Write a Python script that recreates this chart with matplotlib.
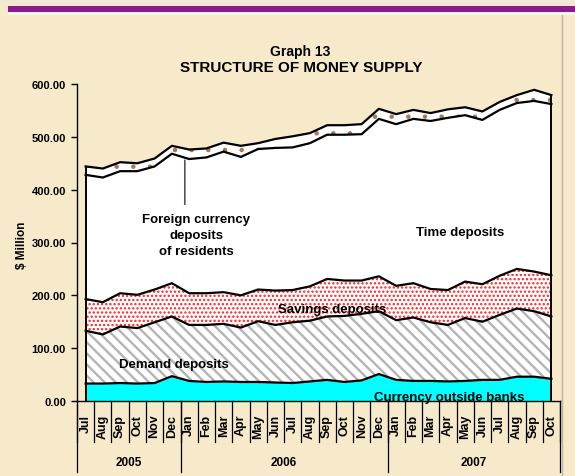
"""
Graph 13 - Structure of money supply (stacked area, Jul 2005 - Oct 2007).
"""

import numpy as np
import matplotlib.pyplot as plt
from matplotlib.patches import Rectangle
from matplotlib.lines import Line2D

# Datos ($ Million)
months = ["Jul", "Aug", "Sep", "Oct", "Nov", "Dec",
          "Jan", "Feb", "Mar", "Apr", "May", "Jun",
          "Jul", "Aug", "Sep", "Oct", "Nov", "Dec",
          "Jan", "Feb", "Mar", "Apr", "May", "Jun",
          "Jul", "Aug", "Sep", "Oct"]
years = ["2005", "2006", "2007"]
year_counts = [6, 12, 10]

currency = [33, 33, 34, 33, 34, 47, 38, 36, 37, 36, 36, 35, 34, 37,
            40, 36, 39, 51, 40, 38, 38, 37, 38, 40, 40, 46, 46, 42]
demand = [100, 93, 107, 105, 115, 113, 106, 108, 109, 103, 115, 109, 115, 115,
          120, 125, 126, 119, 113, 120, 111, 107, 119, 110, 123, 129, 124, 118]
savings = [60, 61, 63, 63, 62, 63, 60, 60, 60, 61, 60, 65, 61, 65,
           71, 67, 63, 66, 65, 65, 63, 66, 69, 71, 74, 75, 75, 78]
time_dep = [235, 236, 231, 234, 233, 245, 254, 257, 266, 262, 266, 270, 270, 271,
            273, 276, 277, 298, 306, 311, 318, 326, 315, 311, 314, 314, 323, 324]
foreign = [16, 17, 17, 15, 15, 15, 18, 17, 17, 21, 11, 17, 21, 19,
           18, 18, 19, 19, 19, 17, 15, 16, 15, 16, 15, 15, 21, 17]

BG = "#F6EACB"

plt.rcParams.update({
    "font.family": "Liberation Sans",
    "font.weight": "bold",
})

fig = plt.figure(figsize=(5.75, 4.77), dpi=100, facecolor=BG)

# ── Marco de la página ──
fig.add_artist(Rectangle((0, 1 - 6 / 477), 1, 6 / 477, transform=fig.transFigure,
                         facecolor="#F1E9D6", edgecolor="none"))
fig.add_artist(Rectangle((8 / 575, 1 - 12.5 / 477), 1, 6 / 477, transform=fig.transFigure,
                         facecolor="#8C1A8C", edgecolor="none"))
fig.add_artist(Rectangle((8 / 575, 1 - 15.5 / 477), 1, 3 / 477, transform=fig.transFigure,
                         facecolor="#FBF6EC", edgecolor="none"))
fig.add_artist(Line2D([562 / 575, 562 / 575], [0, 1 - 15.5 / 477], transform=fig.transFigure,
                      color="#BDB49C", lw=1.0))

ax = fig.add_axes([77 / 575, 1 - 402 / 477, 483 / 575, 317 / 477])
ax.set_facecolor("none")

x = np.arange(len(months))
layers = [currency, demand, savings, time_dep, foreign]
styles = [
    (dict(facecolor="#00FFFF", edgecolor="#00FFFF"), 1.0),
    (dict(facecolor="white", edgecolor="#B4B4B4", hatch="\\\\\\"), 1.7),
    (dict(facecolor="white", edgecolor="#FF2020", hatch="...."), 1.1),
    (dict(facecolor="white", edgecolor="white"), 1.0),
    (dict(facecolor="white", edgecolor="#A87A50", hatch="."), 0.8),
]

base = np.zeros(len(x))
for vals, (st, hlw) in zip(layers, styles):
    top = base + np.array(vals)
    with plt.rc_context({"hatch.linewidth": hlw}):
        ax.fill_between(x, base, top, linewidth=0, zorder=1, **st)
    ax.plot(x, top, color="black", lw=1.6, zorder=3)
    base = top
ax.vlines([x[0], x[-1]], 0, [base[0], base[-1]], color="black", lw=1.4, zorder=3)

# ── Ejes ──
ax.set_xlim(-0.5, len(months) - 0.5)
ax.set_ylim(0, 600)
ax.spines["top"].set_visible(False)
ax.spines["right"].set_visible(False)
ax.spines["left"].set_linewidth(1.0)
ax.spines["bottom"].set_linewidth(1.0)
ax.set_yticks(np.arange(0, 601, 100))
ax.set_yticklabels([f"{v:.2f}" for v in np.arange(0, 601, 100)], fontsize=8)
ax.tick_params(axis="y", direction="out", length=4, width=1, pad=4)
ax.set_xticks([])

trans = ax.get_xaxis_transform()
for b in np.arange(len(months) + 1) - 0.5:
    ax.plot([b, b], [0, -0.13], transform=trans, clip_on=False, color="black", lw=0.9)
for i, m in enumerate(months):
    ax.text(i, -0.04, m, rotation=90, ha="center", va="top", transform=trans, fontsize=9)

edges = np.concatenate([[0], np.cumsum(year_counts)]) - 0.5
for b in edges:
    ax.plot([b, b], [0, -0.225], transform=trans, clip_on=False, color="black", lw=0.9)
for y, a, b in zip(years, edges[:-1], edges[1:]):
    ax.text((a + b) / 2, -0.192, y, ha="center", va="center", transform=trans, fontsize=8.5)

fig.text(22 / 575, 1 - 245 / 477, "$ Million", rotation=90, ha="center", va="center", fontsize=8.5)

# ── Títulos ──
fig.text(300 / 575, 1 - 52 / 477, "Graph 13", ha="center", va="center", fontsize=10)
fig.text(301 / 575, 1 - 68 / 477, "STRUCTURE OF MONEY SUPPLY", ha="center", va="center", fontsize=11)

# ── Etiquetas de series ──
ax.annotate("", xy=(5.75, 461), xytext=(5.75, 367),
            arrowprops=dict(arrowstyle="-", color="#555555", lw=1.2))
ax.text(6.4, 314, "Foreign currency\ndeposits\nof residents", ha="center", va="center",
        fontsize=9.5, linespacing=1.45)
ax.text(21.7, 320, "Time deposits", ha="center", va="center", fontsize=9.5)
ax.text(14.3, 174, "Savings deposits", ha="center", va="center", fontsize=9.5, zorder=4)
ax.text(5.1, 70, "Demand deposits", ha="center", va="center", fontsize=9.5, zorder=4)
ax.text(21.1, 7, "Currency outside banks", ha="center", va="center", fontsize=9.5, zorder=4)

fig.savefig("out.png", dpi=100, facecolor=BG)
